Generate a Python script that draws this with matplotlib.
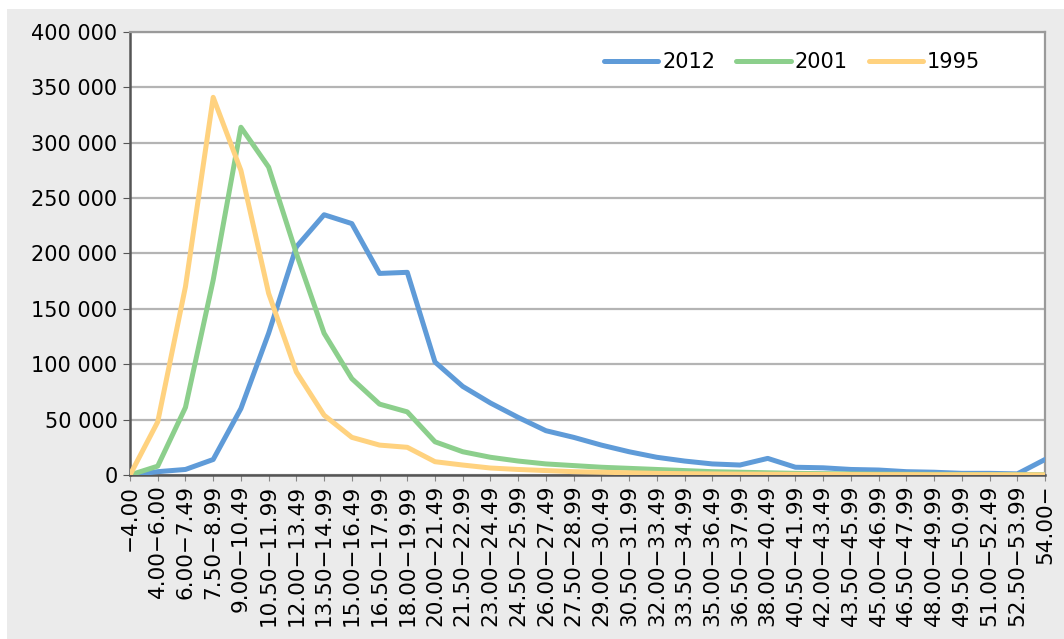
import matplotlib
matplotlib.use("Agg")
import matplotlib.pyplot as plt
import numpy as np
from matplotlib.patches import Rectangle
from matplotlib.ticker import FuncFormatter

CATEGORIES = ['−4.00', '4.00−6.00', '6.00−7.49', '7.50−8.99', '9.00−10.49',
              '10.50−11.99', '12.00−13.49', '13.50−14.99', '15.00−16.49',
              '16.50−17.99', '18.00−19.99', '20.00−21.49', '21.50−22.99',
              '23.00−24.49', '24.50−25.99', '26.00−27.49', '27.50−28.99',
              '29.00−30.49', '30.50−31.99', '32.00−33.49', '33.50−34.99',
              '35.00−36.49', '36.50−37.99', '38.00−40.49', '40.50−41.99',
              '42.00−43.49', '43.50−45.99', '45.00−46.99', '46.50−47.99',
              '48.00−49.99', '49.50−50.99', '51.00−52.49', '52.50−53.99',
              '54.00−']

Y2012 = [0, 3000, 5000, 14000, 60000, 128000, 206000, 235000, 227000,
         182000, 183000, 102000, 80000, 65000, 52000, 40000, 34000, 27000,
         21000, 16000, 12600, 10000, 9000, 15000, 7000, 6500, 5000, 4500,
         3000, 2500, 1500, 1500, 1000, 14000]
Y2001 = [0, 8000, 61000, 176000, 314000, 278000, 200000, 128000, 87000,
         64000, 57000, 30000, 21000, 16000, 12600, 10000, 8500, 7000, 6000,
         5000, 4000, 3000, 2500, 2000, 1500, 1200, 1000, 800, 700, 600, 500,
         400, 300, 300]
Y1995 = [0, 48000, 170000, 341000, 275000, 164000, 93000, 54000, 34000,
         27000, 25000, 12000, 9000, 6300, 5000, 4000, 3000, 2500, 2000, 1500,
         1200, 1000, 800, 700, 600, 500, 400, 300, 300, 200, 200, 200, 100,
         100]

SERIES = [('2012', Y2012, '#5f9bd8'),
          ('2001', Y2001, '#8ccf8c'),
          ('1995', Y1995, '#ffd27f')]

W, H = 1064, 639
fig = plt.figure(figsize=(W / 100, H / 100), dpi=100, facecolor='white')
fig.patches.append(Rectangle((7 / W, 0), 1, 1 - 9 / H, transform=fig.transFigure,
                             facecolor='#ebebeb', edgecolor='none', zorder=-10))

ax = fig.add_axes([130 / W, 1 - 475 / H, (1045 - 130) / W, (475 - 32) / H])
ax.set_facecolor('white')

x = np.arange(len(CATEGORIES))
for label, ys, color in SERIES:
    ax.plot(x, ys, color=color, lw=3.6, label=label, solid_capstyle='round',
            solid_joinstyle='round', zorder=3)

ax.set_xlim(0, len(CATEGORIES) - 1)
ax.set_ylim(0, 400000)
ax.set_yticks(np.arange(0, 400001, 50000))
ax.yaxis.set_major_formatter(FuncFormatter(lambda v, p: '{:,.0f}'.format(v).replace(',', ' ')))
ax.set_xticks(x)
ax.set_xticklabels(CATEGORIES, rotation=90, fontsize=15.5)
ax.tick_params(axis='y', labelsize=15, length=5, color='#555555', pad=4)
ax.tick_params(axis='x', length=4, color='#888888', pad=3)

ax.grid(axis='y', color='#b4b4b4', lw=1.6, zorder=1)
ax.set_axisbelow(True)
for side in ['left', 'bottom']:
    ax.spines[side].set_color('#555555')
    ax.spines[side].set_linewidth(1.8)
for side in ['top', 'right']:
    ax.spines[side].set_color('#9a9a9a')
    ax.spines[side].set_linewidth(1.6)

ax.legend(loc='center right', bbox_to_anchor=(0.945, 0.932), ncol=3,
          frameon=False, fontsize=15, handlelength=2.6, handletextpad=0.2,
          columnspacing=1.0, borderpad=0.2)

fig.savefig('out.png', dpi=100, facecolor=fig.get_facecolor())
